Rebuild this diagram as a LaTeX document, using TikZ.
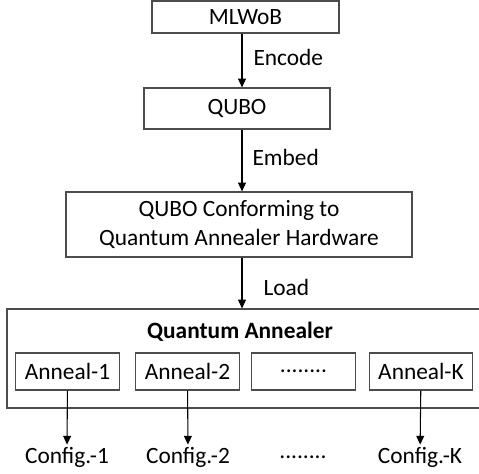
\documentclass[tikz,border=0pt]{standalone}
\usepackage{fontspec}
\setmainfont{Carlito}
\usetikzlibrary{arrows.meta}

\begin{document}
\begin{tikzpicture}[
  line width=0.6pt,
  font=\fontsize{13.3}{16.5}\selectfont,
  box/.style={rectangle,draw=black!70,inner sep=0pt,align=center},
  abox/.style={box,minimum width=2.07cm,minimum height=0.74cm},
  arr/.style={-{Triangle[length=5pt,width=4.5pt]}},
  lbl/.style={anchor=west,inner sep=0pt},
  cfg/.style={inner sep=1pt}
]
  \clip (0,0) rectangle (9.58,9.48);
  \coordinate (spine) at (4.84,0);
  % pipeline
  \node[box,minimum width=3.74cm,minimum height=0.64cm] (mlwob) at (4.91,9.14) {MLWoB};
  \node[box,minimum width=3.72cm,minimum height=0.82cm] (qubo) at (4.74,7.31) {QUBO};
  \node[box,minimum width=6.92cm,minimum height=1.30cm] (conf) at (4.78,4.99) {QUBO Conforming to\\Quantum Annealer Hardware};
  \node[box,minimum width=9.50cm,minimum height=1.98cm] (qa) at (4.89,2.31) {};
  \node[font=\fontsize{13.3}{16.5}\selectfont\bfseries] (qatitle) at (4.80,2.84) {Quantum Annealer};
  % anneals
  \node[abox] (a1) at (1.35,2.05) {Anneal-1};
  \node[abox] (a2) at (3.75,2.05) {Anneal-2};
  \node[abox] (a3) at (6.07,2.05) {........};
  \node[abox] (ak) at (8.42,2.05) {Anneal-K};
  \node[cfg] (c1) at (1.34,0.34) {Config.-1};
  \node[cfg] (c2) at (3.76,0.34) {Config.-2};
  \node[cfg] (c3) at (6.06,0.34) {........};
  \node[cfg] (ck) at (8.40,0.34) {Config.-K};
  % labels
  \node[lbl] (enc) at (5.06,8.34) {Encode};
  \node[lbl] (emb) at (5.04,6.34) {Embed};
  \node[lbl] (load) at (5.26,3.74) {Load};
  \draw[arr] (mlwob.south -| spine) -- (qubo.north -| spine);
  \draw[arr] (qubo.south -| spine) -- (conf.north -| spine);
  \draw[arr] (conf.south -| spine) -- (qa.north -| spine);
  \draw[arr] (a1) -- (c1);
  \draw[arr] (a2) -- (c2);
  \draw[arr] (ak) -- (ck);
\end{tikzpicture}
\end{document}
